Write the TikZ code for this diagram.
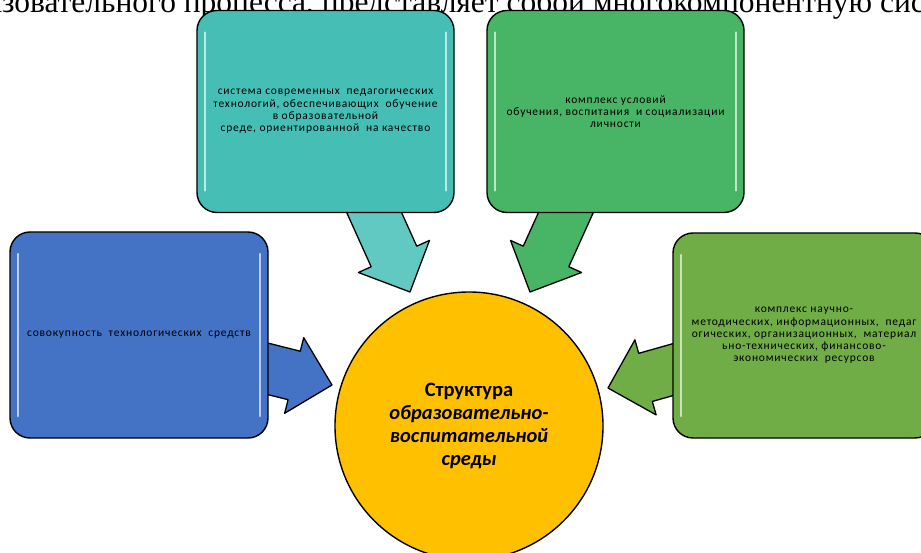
\documentclass[tikz,border=0pt]{standalone}
\usepackage{fontspec}
\setmainfont{Carlito}
\newfontfamily\bodyserif{Liberation Serif}
\newfontfamily\cardfont[LetterSpace=7]{Carlito}
\usetikzlibrary{calc,backgrounds}

\definecolor{tealbox}{HTML}{45BFB6}
\definecolor{greenbox}{HTML}{48B465}
\definecolor{bluebox}{HTML}{4472C4}
\definecolor{leafbox}{HTML}{70AD47}
\definecolor{corefill}{HTML}{FFC000}

% block arrow from #1 (tail) to #2 (tip), filled with #3
\newcommand{\blockarrow}[3]{%
  \path ($(#2)!39pt!(#1)$) coordinate (hb);
  \draw[barrow, fill=#3] ($(#1)!25pt!90:(#2)$) -- ($(hb)!25pt!-90:(#1)$)
    -- ($(hb)!39pt!-90:(#1)$) -- (#2) -- ($(hb)!39pt!90:(#1)$)
    -- ($(hb)!25pt!90:(#1)$) -- ($(#1)!25pt!-90:(#2)$) -- cycle;}

\begin{document}
\begin{tikzpicture}[x=1pt, y=-1pt,
    card/.style={draw, line width=1.4pt, rounded corners=20pt, inner sep=0pt,
      minimum width=257pt, minimum height=202pt, align=center,
      font=\cardfont\fontsize{11.5}{12.3}\selectfont,
      path picture={
        \draw[white, opacity=.65, line width=2.4pt, line cap=round]
          ([xshift=8pt,yshift=-22pt]path picture bounding box.north west)
          -- ([xshift=8pt,yshift=22pt]path picture bounding box.south west);
        \draw[white, opacity=.65, line width=2.4pt, line cap=round]
          ([xshift=-8pt,yshift=-22pt]path picture bounding box.north east)
          -- ([xshift=-8pt,yshift=22pt]path picture bounding box.south east);}},
    barrow/.style={draw, line width=1.3pt, line join=round}]
  \useasboundingbox (0,0) rectangle (921,553);
  \clip (0,0) rectangle (921,553);

  \node[anchor=base west, font=\bodyserif\fontsize{31.5}{34}\selectfont] (intro) at (-63,12.5)
    {образовательного процесса, представляет собой многокомпонентную систему};

  \node[card, fill=tealbox] (tech) at (325.5,111.5)
    {система современных \ педагогических\\технологий, обеспечивающих \ обучение\\в образовательной\\среде, ориентированной \ на качество};
  \node[card, fill=greenbox] (cond) at (615.5,111.5)
    {комплекс условий\\обучения, воспитания \ и социализации\\личности};
  \node[card, fill=bluebox, minimum width=258pt, minimum height=206pt] (means) at (139,335)
    {совокупность \ технологических \ средств};
  \node[card, fill=leafbox, minimum width=262pt, minimum height=205pt] (res) at (804,335.5)
    {комплекс научно-\\методических, информационных, \ педаг\\огических, организационных, \ материал\\ьно-технических, финансово-\\экономических \ ресурсов};

  \node[circle, draw, line width=1.4pt, fill=corefill, minimum size=268pt, align=center,
    font=\bfseries\fontsize{20.5}{23}\selectfont] (core) at (469,426)
    {Структура\\\textit{образовательно-}\\\textit{воспитательной}\\\textit{среды}};

  \coordinate (techS) at ($(tech.south)+(43.5,-12)$);
  \coordinate (condS) at ($(cond.south)+(-44.5,-12)$);
  \coordinate (meansS) at ($(means.east)+(-18,29.5)$);
  \coordinate (resS) at ($(res.west)+(17,29.5)$);
  \coordinate (techT) at ($(core)+(-59,-134)$);
  \coordinate (condT) at ($(core)+(61,-134)$);
  \coordinate (meansT) at ($(core)+(-137,-41)$);
  \coordinate (resT) at ($(core)+(139,-38)$);

  \begin{pgfonlayer}{background}
    \blockarrow{techS}{techT}{tealbox!85!white}
    \blockarrow{condS}{condT}{greenbox}
    \blockarrow{meansS}{meansT}{bluebox}
    \blockarrow{resS}{resT}{leafbox}
  \end{pgfonlayer}
\end{tikzpicture}
\end{document}
